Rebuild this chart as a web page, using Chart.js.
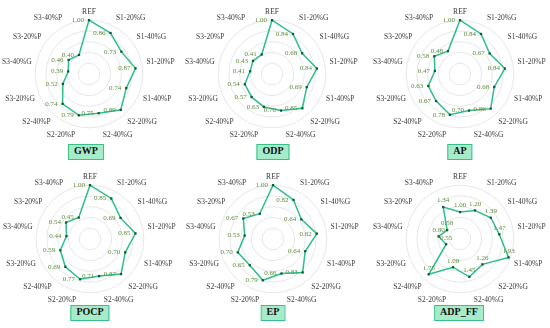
<!DOCTYPE html>
<html>
<head>
<meta charset="utf-8">
<script src="https://cdn.jsdelivr.net/npm/chart.js@4.4.1/dist/chart.umd.min.js"></script>
<style>
  html,body{margin:0;padding:0;background:#fff;}
  #wrap{position:relative;width:550px;height:328px;overflow:hidden;background:#fff;}
  .panel{position:absolute;}
  .tag{position:absolute;transform:translateX(-50%);height:14px;line-height:14px;padding:0 5px;
       background:#a8ebc9;border:1px solid #37c08a;font:bold 10px "Liberation Serif",serif;color:#111;white-space:nowrap;}
</style>
</head>
<body>
<div id="wrap"></div>
<script>
const categories = ['REF','S1-20%G','S1-40%G','S1-20%P','S1-40%P','S2-20%G','S2-40%G','S2-20%P','S2-40%P','S3-20%G','S3-40%G','S3-20%P','S3-40%P'];

const gwp   = [1.00,0.86,0.73,0.87,0.74,0.89,0.75,0.79,0.74,0.52,0.39,0.46,0.40];
const odp   = [1.00,0.84,0.68,0.84,0.69,0.85,0.70,0.63,0.57,0.54,0.41,0.43,0.41];
const ap    = [1.00,0.84,0.67,0.84,0.68,0.86,0.70,0.78,0.67,0.63,0.47,0.58,0.48];
const pocp  = [1.00,0.85,0.69,0.85,0.70,0.87,0.71,0.77,0.69,0.59,0.44,0.54,0.45];
const ep    = [1.00,0.82,0.64,0.82,0.64,0.83,0.66,0.79,0.65,0.70,0.53,0.67,0.53];
const adpff = [1.00,1.20,1.39,1.47,1.93,1.26,1.45,1.08,1.75,0.55,0.80,0.58,1.34];

const indicatorNames = ['GWP','ODP','AP','POCP','EP','ADP_FF'];
const seriesList = [gwp, odp, ap, pocp, ep, adpff];
const scaleMax = [1, 1, 1, 1, 1, 2];

const panels = [
  {left:-2,  top:0,   tagX:86,  tagY:144, pos:'left'},
  {left:181, top:0,   tagX:273, tagY:144, pos:'left'},
  {left:369, top:0,   tagX:460, tagY:144, pos:'left'},
  {left:-1,  top:165, tagX:90,  tagY:305, pos:'left'},
  {left:182, top:165, tagX:273, tagY:305, pos:'left'},
  {left:369, top:165, tagX:459, tagY:305, pos:'above'}
];
const PW = 182, PH = 144;

const valueLabels = {
  id: 'valueLabels',
  afterDatasetsDraw(chart, args, opts) {
    const ctx = chart.ctx;
    const meta = chart.getDatasetMeta(0);
    const data = chart.data.datasets[0].data;
    ctx.save();
    ctx.font = '7px "Liberation Serif", serif';
    ctx.fillStyle = '#5e8c3a';
    meta.data.forEach((pt, i) => {
      const txt = data[i].toFixed(2);
      if (opts.pos === 'above') {
        ctx.textAlign = 'center';
        ctx.textBaseline = 'bottom';
        ctx.fillText(txt, pt.x, pt.y - 3);
      } else {
        ctx.textAlign = 'right';
        ctx.textBaseline = 'middle';
        ctx.fillText(txt, pt.x - 5, pt.y);
      }
    });
    ctx.restore();
  }
};

const wrap = document.getElementById('wrap');
seriesList.forEach((series, k) => {
  const p = panels[k];
  const div = document.createElement('div');
  div.className = 'panel';
  div.style.left = p.left + 'px';
  div.style.top = p.top + 'px';
  const cv = document.createElement('canvas');
  cv.width = PW; cv.height = PH;
  cv.style.width = PW + 'px'; cv.style.height = PH + 'px';
  div.appendChild(cv);
  wrap.appendChild(div);

  const tag = document.createElement('div');
  tag.className = 'tag';
  tag.style.left = p.tagX + 'px';
  tag.style.top = p.tagY + 'px';
  tag.textContent = indicatorNames[k];
  wrap.appendChild(tag);

  new Chart(cv, {
    type: 'radar',
    data: {
      labels: categories,
      datasets: [{
        data: series,
        borderColor: '#2dbe8c',
        borderWidth: 1.5,
        backgroundColor: 'rgba(0,0,0,0)',
        fill: false,
        pointStyle: 'rect',
        pointRadius: 1.6,
        pointBackgroundColor: '#0d5a30',
        pointBorderColor: '#0d5a30',
        pointBorderWidth: 0
      }]
    },
    options: {
      responsive: false,
      animation: false,
      devicePixelRatio: 1,
      layout: {padding: {left: 4, right: 4, top: 7, bottom: 3}},
      plugins: {
        legend: {display: false},
        tooltip: {enabled: false},
        valueLabels: {pos: p.pos}
      },
      scales: {
        r: {
          min: 0,
          max: scaleMax[k],
          ticks: {display: false, stepSize: scaleMax[k] / 5},
          grid: {circular: true, color: '#e6e6e6', lineWidth: 1},
          angleLines: {display: false},
          pointLabels: {
            font: {family: '"Liberation Serif", serif', size: 7.5},
            color: '#3a3a3a',
            padding: 4
          }
        }
      }
    },
    plugins: [valueLabels]
  });
});
</script>
</body>
</html>
